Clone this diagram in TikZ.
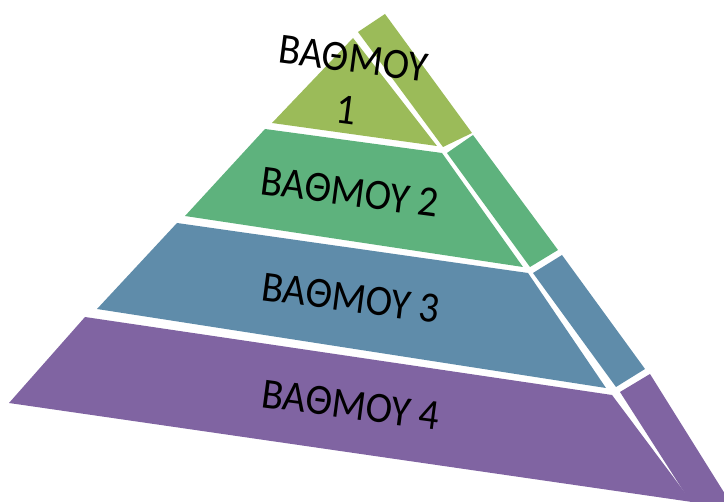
\documentclass[tikz,border=0pt]{standalone}
\usepackage{fontspec}
\setmainfont{Carlito}
\definecolor{lvA}{RGB}{155,187,89}
\definecolor{lvB}{RGB}{94,178,125}
\definecolor{lvC}{RGB}{95,140,170}
\definecolor{lvD}{RGB}{128,100,162}
\tikzset{
  lbl/.style={font=\fontsize{40}{48}\selectfont, text=black, align=center, rotate=-7.5, yscale=1.08, inner sep=0pt},
}
\begin{document}
\begin{tikzpicture}[x=1pt,y=-1pt]
\useasboundingbox (0,0) rectangle (724,502);
\clip (0,0) rectangle (724,502);
% layer 1
\fill[lvA] (353,38) -- (437,146) -- (272,123) -- cycle;
\fill[lvA] (358,32) -- (385,14) -- (472,133) -- (443,147) -- cycle;
% layer 2
\fill[lvB] (265,129) -- (442,153) -- (523,267) -- (185,216) -- cycle;
\fill[lvB] (447,153) -- (473,135) -- (558,250) -- (530,267) -- cycle;
% layer 3
\fill[lvC] (177,223) -- (528,273) -- (606,388) -- (97,309) -- cycle;
\fill[lvC] (533,273) -- (562,255) -- (645,369) -- (616,387) -- cycle;
% layer 4
\fill[lvD] (85,317) -- (612,395) -- (692,502) -- (9,403) -- cycle;
\fill[lvD] (620,392) -- (650,374) -- (735,510) -- (702,520) -- cycle;
% labels
\node[lbl] (t1) at (350,84) {ΒΑΘΜΟΥ\\1};
\node[lbl] (t2) at (350,192) {ΒΑΘΜΟΥ 2};
\node[lbl] (t3) at (351,298) {ΒΑΘΜΟΥ 3};
\node[lbl] (t4) at (351,405) {ΒΑΘΜΟΥ 4};
\end{tikzpicture}
\end{document}
